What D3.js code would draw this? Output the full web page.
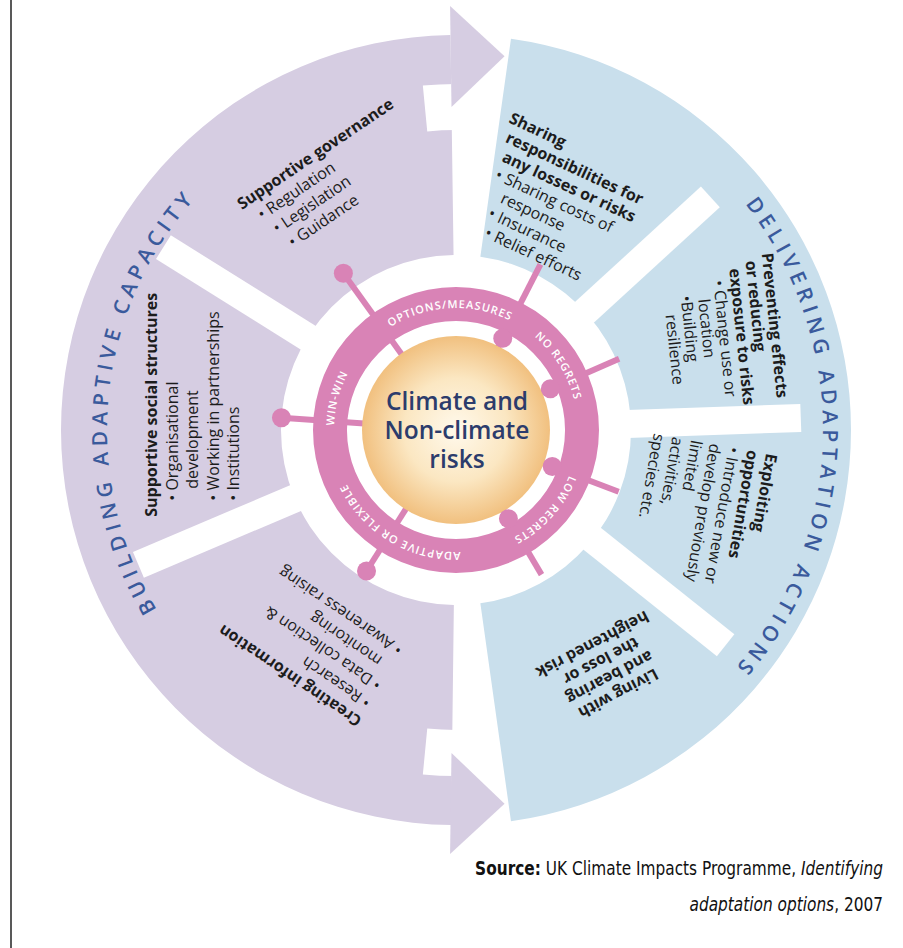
<!DOCTYPE html>
<html>
<head>
<meta charset="utf-8">
<script src="https://cdn.jsdelivr.net/npm/d3@7/dist/d3.min.js"></script>
<style>
  body { margin: 0; background: #fff; }
  svg { display: block; }
  .panel text { font-family: "Open Sans", "DejaVu Sans", sans-serif; font-size: 16px; fill: #1c1c1c; white-space: pre; }
</style>
</head>
<body>
<div class="diagram"></div>
<script>
var svgWidth = 903;
var svgHeight = 948;
var cx = 456, cy = 430;

// two halves of the outer ring (degrees clockwise from 12 o'clock)
var sideNames = ["building", "delivering"];
var sideStart = [180.7, 8];
var sideEnd = [359.2, 172];
var sideTitles = ["BUILDING ADAPTIVE CAPACITY", "DELIVERING ADAPTATION ACTIONS"];
var titleCentres = [275.5, 91.5];
var titleRadius = [349, 367];

// white gaps between the panels
var gapAngles = [302, 247, 47.5, 88, 128.6];
// small notches under the arrow bodies
var notchStart = [354.5, 180];
var notchEnd = [360, 185.5];

// panels and their text
var panelNames = ["governance", "social", "information", "sharing", "preventing", "exploiting", "living"];
var panelLines = [
  ["Supportive governance", "• Regulation", "• Legislation", "• Guidance"],
  ["Supportive social structures", "• Organisational", "  development", "• Working in partnerships", "• Institutions"],
  ["Creating information", "• Research", "• Data collection &", "  monitoring", "• Awareness raising"],
  ["Sharing", "responsibilities for", "any losses or risks", "• Sharing costs of", "  response", "• Insurance", "• Relief efforts"],
  ["Preventing effects", "or reducing", "exposure to risks", "• Change use or", "  location", "•Building", "  resilience"],
  ["Exploiting", "opportunities", "• Introduce new or", "develop previously", "limited", "activities,", "species etc."],
  ["Living with", "and bearing", "the loss or", "heightened risk"]
];
var headingCount = [1, 1, 1, 3, 3, 2, 4];

// spokes from the options ring out to each panel
var spokeAngles = [324.3, 274, 212.4, 27, 66.4, 110.8, 149.4];
var spokeSide = ["building", "building", "building", "delivering", "delivering", "delivering", "delivering"];
var spokeReach = [193, 175, 167, 186, 178, 174, 168];

// labels on the pink options ring
var ringLabels = ["OPTIONS/MEASURES", "NO REGRETS", "LOW REGRETS", "ADAPTIVE OR FLEXIBLE", "WIN-WIN"];
var ringLabelAngles = [-3, 58, 132, 211, 285];

var centreLines = ["Climate and", "Non-climate", "risks"];

var colours = { building: "#d6cde2", delivering: "#c9dfec", pink: "#d983b6", title: "#3a5a9c", centre: "#2c3c6c" };

// where each panel's text starts (polar), and how it is turned
var textLayout = {
  governance:  { angle: 315.8, r: 307, rot: -34, lh: 20, skew: 5, bullet: 6, cont: 18, anchor: "start" },
  social:      { angle: 253.8, r: 311, rot: -90, lh: 20.5, skew: 0, bullet: 16, cont: 28, anchor: "start" },
  information: { angle: 197.9, r: 303, rot: 214, lh: 20.5, skew: 1, bullet: 2, cont: 14, anchor: "start" },
  sharing:     { angle: 9.6, r: 312, rot: 25, lh: 19, skew: 5, bullet: -4, cont: 6, anchor: "start" },
  preventing:  { angle: 60, r: 353, rot: 84, lh: 17, skew: 6, bullet: 4, cont: 15, anchor: "start" },
  exploiting:  { angle: 94.2, r: 311, rot: 100, lh: 19, skew: 0, bullet: 0, cont: 0, anchor: "start" },
  living:      { angle: 148.3, r: 304, rot: 152, lh: 18.5, skew: 0, bullet: 0, cont: 0, anchor: "middle" }
};

var rad = d => d * Math.PI / 180;

var svg = d3.select(".diagram")
  .append("svg")
  .attr("width", svgWidth)
  .attr("height", svgHeight);

// frame line on the left
svg.append("line")
  .attr("x1", 11).attr("x2", 11)
  .attr("y1", 0).attr("y2", svgHeight)
  .attr("stroke", "#222")
  .attr("stroke-width", 1.5);

var defs = svg.append("defs");
var grad = defs.append("radialGradient").attr("id", "beige");
grad.append("stop").attr("offset", "0%").attr("stop-color", "#fff9ec");
grad.append("stop").attr("offset", "55%").attr("stop-color", "#fbe7c2");
grad.append("stop").attr("offset", "100%").attr("stop-color", "#f1c07f");

var chartGroup = svg.append("g")
  .attr("transform", `translate(${cx}, ${cy})`);

var arc = d3.arc();

// outer ring halves
chartGroup.selectAll(".half")
  .data(sideNames)
  .enter()
  .append("path")
  .attr("class", "half")
  .attr("d", (d, i) => arc({ innerRadius: 175, outerRadius: 395, startAngle: rad(sideStart[i]), endAngle: rad(sideEnd[i]) }))
  .attr("fill", d => colours[d]);

// white gaps
chartGroup.selectAll(".gap")
  .data(gapAngles)
  .enter()
  .append("rect")
  .attr("class", "gap")
  .attr("x", -14)
  .attr("width", 28)
  .attr("y", -345)
  .attr("height", 345 - 150)
  .attr("transform", d => `rotate(${d})`)
  .attr("fill", "#fff");

chartGroup.selectAll(".notch")
  .data(notchStart)
  .enter()
  .append("path")
  .attr("class", "notch")
  .attr("d", (d, i) => arc({ innerRadius: 300, outerRadius: 346, startAngle: rad(d), endAngle: rad(notchEnd[i]) }))
  .attr("fill", "#fff");

// arrowheads where the purple ring flows into the blue one
var arrowTips = [
  [[-0.8, 323], [-0.8, 424], [7.4, 377]],
  [[180.8, 323], [180.8, 424], [172.6, 377]]
];
var line = d3.line();
chartGroup.selectAll(".arrow")
  .data(arrowTips)
  .enter()
  .append("path")
  .attr("class", "arrow")
  .attr("d", d => line(d.map(p => d3.pointRadial(rad(p[0]), p[1]))) + "Z")
  .attr("fill", colours.building);

// curved titles
function arcPath(angle, r, span) {
  var p = d3.path();
  p.arc(0, 0, r, rad(angle - 90 - span), rad(angle - 90 + span));
  return p.toString();
}

sideTitles.forEach(function (t, i) {
  defs.append("path")
    .attr("id", "title" + i)
    .attr("d", arcPath(titleCentres[i], titleRadius[i], 80));
  chartGroup.append("text")
    .attr("font-family", "'Open Sans', 'DejaVu Sans', sans-serif")
    .attr("font-size", 21)
    .attr("font-weight", 600)
    .attr("letter-spacing", 5.2)
    .attr("fill", colours.title)
    .append("textPath")
    .attr("href", "#title" + i)
    .attr("startOffset", "50%")
    .attr("text-anchor", "middle")
    .text(t);
});

// panel texts
panelNames.forEach(function (name, i) {
  var L = textLayout[name];
  var p = d3.pointRadial(rad(L.angle), L.r);
  var pg = chartGroup.append("g")
    .attr("class", "panel")
    .attr("transform", `translate(${p[0]}, ${p[1]}) rotate(${L.rot})`);
  pg.selectAll("text")
    .data(panelLines[i])
    .enter()
    .append("text")
    .attr("x", (d, k) => k * L.skew + (d.startsWith("•") ? L.bullet : d.startsWith("  ") ? L.cont : 0))
    .attr("y", (d, k) => k * L.lh)
    .attr("text-anchor", L.anchor)
    .attr("font-weight", (d, k) => k < headingCount[i] ? 700 : 400)
    .text(d => d.trim());
});

// spokes
var knobRadius = (i) => spokeSide[i] === "building" ? spokeReach[i] : 103;
chartGroup.selectAll(".spoke")
  .data(spokeAngles)
  .enter()
  .append("line")
  .attr("class", "spoke")
  .attr("x1", d => d3.pointRadial(rad(d), 92)[0])
  .attr("y1", d => d3.pointRadial(rad(d), 92)[1])
  .attr("x2", (d, i) => d3.pointRadial(rad(d), spokeReach[i])[0])
  .attr("y2", (d, i) => d3.pointRadial(rad(d), spokeReach[i])[1])
  .attr("stroke", colours.pink)
  .attr("stroke-width", 6);

// centre disc
chartGroup.append("circle")
  .attr("r", 94)
  .attr("fill", "url(#beige)");

// pink options ring
chartGroup.append("path")
  .attr("d", arc({ innerRadius: 109, outerRadius: 143, startAngle: 0, endAngle: 2 * Math.PI }))
  .attr("fill", colours.pink);

// knobs
chartGroup.selectAll(".knob")
  .data(spokeAngles)
  .enter()
  .append("circle")
  .attr("class", "knob")
  .attr("cx", (d, i) => d3.pointRadial(rad(d), knobRadius(i))[0])
  .attr("cy", (d, i) => d3.pointRadial(rad(d), knobRadius(i))[1])
  .attr("r", 9.5)
  .attr("fill", colours.pink);

// ring labels
ringLabels.forEach(function (t, i) {
  defs.append("path")
    .attr("id", "ring" + i)
    .attr("d", arcPath(ringLabelAngles[i], 122, 70));
  chartGroup.append("text")
    .attr("font-family", "'Open Sans', 'DejaVu Sans', sans-serif")
    .attr("font-size", 11)
    .attr("font-weight", 600)
    .attr("letter-spacing", 1)
    .attr("fill", "#fff")
    .append("textPath")
    .attr("href", "#ring" + i)
    .attr("startOffset", "50%")
    .attr("text-anchor", "middle")
    .text(t);
});

// centre text
chartGroup.selectAll(".centre")
  .data(centreLines)
  .enter()
  .append("text")
  .attr("class", "centre")
  .attr("x", 1)
  .attr("y", (d, i) => -20 + i * 29)
  .attr("text-anchor", "middle")
  .attr("font-family", "'Open Sans', 'DejaVu Sans', sans-serif")
  .attr("font-size", 24.5)
  .attr("font-weight", 600)
  .attr("fill", colours.centre)
  .text(d => d);

// source note, squeezed sideways to the width it takes in the picture
var src = svg.append("g")
  .attr("font-family", "'DejaVu Sans', sans-serif")
  .attr("font-size", 20)
  .attr("fill", "#111");
var s1 = src.append("text")
  .attr("text-anchor", "end");
s1.append("tspan").attr("font-weight", "bold").text("Source:");
s1.append("tspan").text(" UK Climate Impacts Programme, ");
s1.append("tspan").attr("font-style", "italic").text("Identifying");
var s2 = src.append("text")
  .attr("text-anchor", "end");
s2.append("tspan").attr("font-style", "italic").text("adaptation options");
s2.append("tspan").text(", 2007");

var squeeze = 408 / s1.node().getComputedTextLength();
s1.attr("transform", `translate(883, 875) scale(${squeeze}, 1)`);
s2.attr("transform", `translate(883, 911) scale(${squeeze}, 1)`);
</script>
</body>
</html>
